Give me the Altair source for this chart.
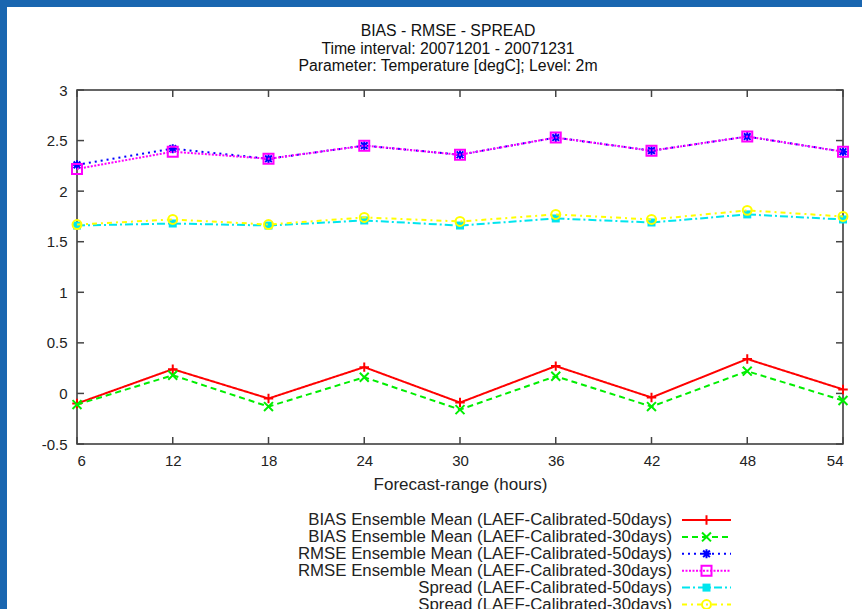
import altair as alt
import pandas as pd

hours = [6, 12, 18, 24, 30, 36, 42, 48, 54]

bias_50 = [-0.10, 0.24, -0.05, 0.26, -0.09, 0.27, -0.04, 0.34, 0.04]
bias_30 = [-0.11, 0.18, -0.13, 0.16, -0.16, 0.17, -0.13, 0.22, -0.07]
rmse_50 = [2.26, 2.42, 2.32, 2.45, 2.36, 2.53, 2.40, 2.54, 2.39]
rmse_30 = [2.22, 2.39, 2.32, 2.45, 2.36, 2.53, 2.40, 2.54, 2.39]
spread_50 = [1.66, 1.68, 1.66, 1.71, 1.66, 1.73, 1.69, 1.77, 1.72]
spread_30 = [1.67, 1.72, 1.67, 1.74, 1.70, 1.77, 1.72, 1.81, 1.75]

series_names = [
    "BIAS Ensemble Mean (LAEF-Calibrated-50days)",
    "BIAS Ensemble Mean (LAEF-Calibrated-30days)",
    "RMSE Ensemble Mean (LAEF-Calibrated-50days)",
    "RMSE Ensemble Mean (LAEF-Calibrated-30days)",
    "Spread (LAEF-Calibrated-50days)",
    "Spread (LAEF-Calibrated-30days)",
]
series_values = [bias_50, bias_30, rmse_50, rmse_30, spread_50, spread_30]

y_ticks = [-0.5, 0, 0.5, 1, 1.5, 2, 2.5, 3]

title_lines = [
    "BIAS - RMSE - SPREAD",
    "Time interval: 20071201 - 20071231",
    "Parameter: Temperature [degC]; Level: 2m",
]

# styles
colors = ["#ff0000", "#00ee00", "#0000ff", "#ff00ff", "#00e5ee", "#ffff00"]
dashes = [[1, 0], [6, 4], [2, 4], [2, 1.5], [8, 3, 2, 3], [5, 4, 2, 4]]
PLUS = "M-1,0L1,0M0,-1L0,1"
CROSS = "M-1,-1L1,1M-1,1L1,-1"
STAR = "M-1,0L1,0M0,-1L0,1M-0.75,-0.75L0.75,0.75M-0.75,0.75L0.75,-0.75"
shapes = [PLUS, CROSS, STAR, "square", "square", "circle"]
filled = [False, False, False, False, True, False]
sizes = [90, 80, 80, 100, 64, 80]

W, H = 766, 354
PAD_L, PAD_T = 77, 90

x_scale = alt.Scale(domain=[6, 54], nice=False, zero=False)
y_scale = alt.Scale(domain=[-0.5, 3], nice=False, zero=False)

FONT = "Liberation Sans"

layers = []

# frame decoration (blue border at top and left of the picture)
one = pd.DataFrame({"k": [0]})
frame_col = "#1a66b0"
layers.append(
    alt.Chart(one).mark_rect(color=frame_col).encode(
        x=alt.value(-PAD_L), x2=alt.value(-PAD_L + 7),
        y=alt.value(-PAD_T), y2=alt.value(609 - PAD_T),
    )
)
layers.append(
    alt.Chart(one).mark_rect(color=frame_col).encode(
        x=alt.value(-PAD_L), x2=alt.value(862 - PAD_L),
        y=alt.value(-PAD_T), y2=alt.value(-PAD_T + 7),
    )
)

# title lines (drawn as text)
title_y = [31, 48.5, 66]
for line, ty in zip(title_lines, title_y):
    tdf = pd.DataFrame({"t": [line]})
    layers.append(
        alt.Chart(tdf).mark_text(align="center", baseline="middle",
                                 font=FONT, fontSize=15.8,
                                 color="#111").encode(
            text="t:N", x=alt.value(448 - PAD_L), y=alt.value(ty - PAD_T))
    )

# axes (labels only) via an invisible base layer
axis_df = pd.DataFrame({"hour": hours, "value": [0] * len(hours)})
base = alt.Chart(axis_df).mark_point(opacity=0).encode(
    x=alt.X("hour:Q", scale=x_scale,
            axis=alt.Axis(values=hours, title="Forecast-range (hours)",
                          labelExpr="toString(datum.value)", ticks=False,
                          domain=False, grid=False, labelPadding=9,
                          titlePadding=8, labelFontSize=15, titleFontSize=17,
                          labelFont=FONT, titleFont=FONT, titleFontWeight="normal",
                          labelColor="#222", titleColor="#222")),
    y=alt.Y("value:Q", scale=y_scale,
            axis=alt.Axis(values=y_ticks, title=None,
                          labelExpr="toString(datum.value)", ticks=False,
                          domain=False, grid=False, labelPadding=10,
                          labelFontSize=15, labelFont=FONT, labelColor="#222")),
)
layers.append(base)

# inward ticks on all four sides
tick_len = 7
xt = pd.DataFrame({"hour": hours})
yt = pd.DataFrame({"v": y_ticks})
tick_col = "#444444"
layers.append(alt.Chart(xt).mark_rule(color=tick_col, strokeWidth=1.5).encode(
    x=alt.X("hour:Q", scale=x_scale), y=alt.value(H), y2=alt.value(H - tick_len)))
layers.append(alt.Chart(xt).mark_rule(color=tick_col, strokeWidth=1.5).encode(
    x=alt.X("hour:Q", scale=x_scale), y=alt.value(0), y2=alt.value(tick_len)))
layers.append(alt.Chart(yt).mark_rule(color=tick_col, strokeWidth=1.5).encode(
    y=alt.Y("v:Q", scale=y_scale), x=alt.value(0), x2=alt.value(tick_len)))
layers.append(alt.Chart(yt).mark_rule(color=tick_col, strokeWidth=1.5).encode(
    y=alt.Y("v:Q", scale=y_scale), x=alt.value(W), x2=alt.value(W - tick_len)))

# data series
for i, (name, vals) in enumerate(zip(series_names, series_values)):
    df = pd.DataFrame({"hour": hours, "value": vals})
    layers.append(
        alt.Chart(df).mark_line(color=colors[i], strokeWidth=2,
                                strokeDash=dashes[i]).encode(
            x=alt.X("hour:Q", scale=x_scale), y=alt.Y("value:Q", scale=y_scale))
    )
    layers.append(
        alt.Chart(df).mark_point(shape=shapes[i], filled=filled[i],
                                 color=colors[i], size=sizes[i], strokeWidth=2,
                                 opacity=1).encode(
            x=alt.X("hour:Q", scale=x_scale), y=alt.Y("value:Q", scale=y_scale))
    )

# legend (below the plot, text right aligned, sample on the right)
text_right = 672 - PAD_L
line_x1, line_x2 = 682 - PAD_L, 731 - PAD_L
row0 = 520 - PAD_T
row_step = 16.9
for i, name in enumerate(series_names):
    ry = row0 + i * row_step
    ldf = pd.DataFrame({"label": [name]})
    layers.append(
        alt.Chart(ldf).mark_text(align="right", baseline="middle", font=FONT,
                                 fontSize=16.8, color="#222").encode(
            text="label:N", x=alt.value(text_right), y=alt.value(ry))
    )
    layers.append(
        alt.Chart(ldf).mark_rule(color=colors[i], strokeWidth=2,
                                 strokeDash=dashes[i]).encode(
            x=alt.value(line_x1), x2=alt.value(line_x2), y=alt.value(ry))
    )
    layers.append(
        alt.Chart(ldf).mark_point(shape=shapes[i], filled=filled[i],
                                  color=colors[i], size=sizes[i], strokeWidth=2,
                                  opacity=1).encode(
            x=alt.value((line_x1 + line_x2) / 2), y=alt.value(ry))
    )

chart = alt.layer(*layers).properties(
    width=W, height=H,
    autosize=alt.AutoSizeParams(type="none"),
    padding={"left": PAD_L, "top": PAD_T, "right": 862 - PAD_L - W,
             "bottom": 609 - PAD_T - H},
    background="white",
).configure_view(stroke="#333333", strokeWidth=1.5)

chart.save("out.html", embed_options={"renderer": "svg", "actions": False})
